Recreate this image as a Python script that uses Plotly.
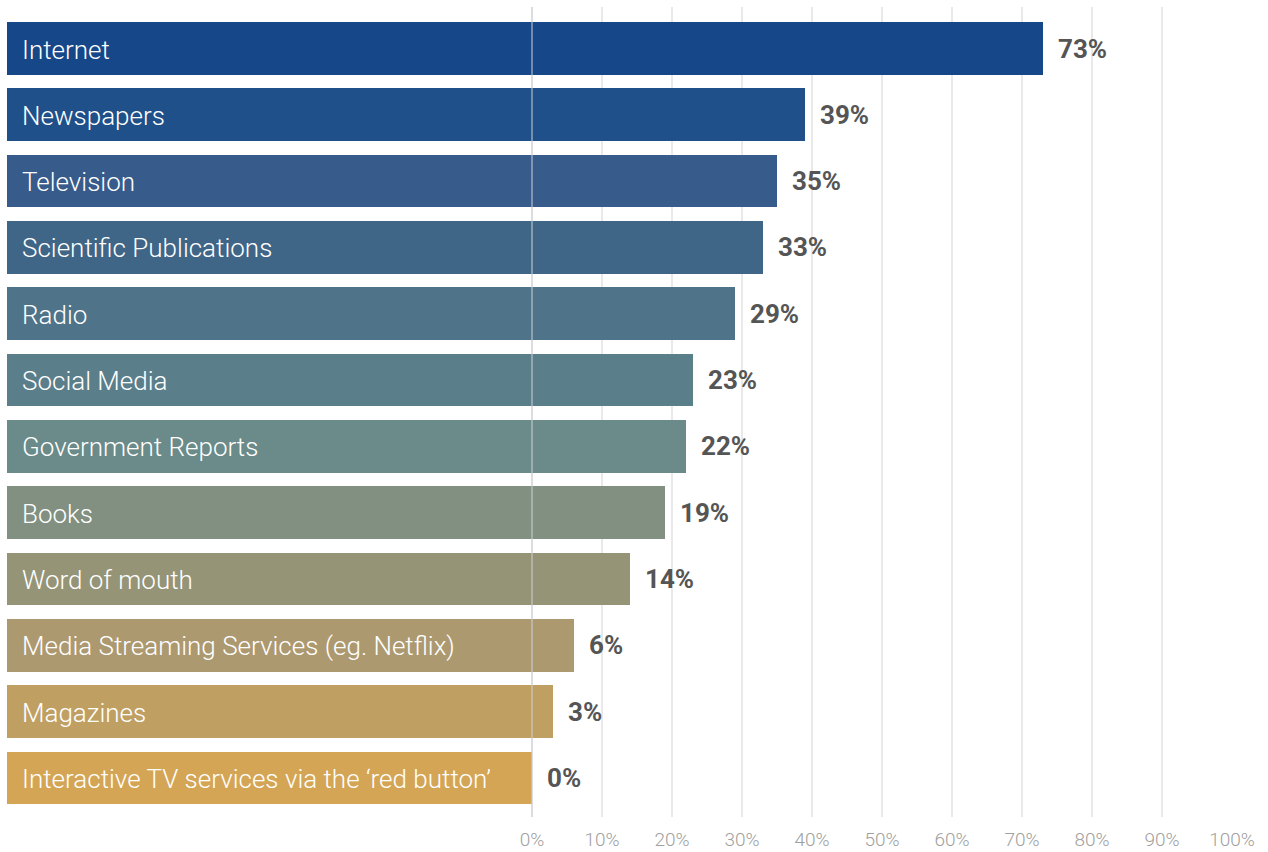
import plotly.graph_objects as go

# Survey: sources of information (share of respondents, %)
categories = [
    "Internet",
    "Newspapers",
    "Television",
    "Scientific Publications",
    "Radio",
    "Social Media",
    "Government Reports",
    "Books",
    "Word of mouth",
    "Media Streaming Services (eg. Netflix)",
    "Magazines",
    "Interactive TV services via the \u2018red button\u2019",
]
values = [73, 39, 35, 33, 29, 23, 22, 19, 14, 6, 3, 0]
bar_colors = [
    "#164789", "#1f5089", "#375b8a", "#3f6687", "#4f7389", "#5b7e8b",
    "#6a8b89", "#819080", "#959477", "#ad9970", "#c09f63", "#d4a555",
]
tick_values = list(range(0, 101, 10))
tick_labels = [f"{t}%" for t in tick_values]

# bars start left of zero so the category names fit inside them
BAR_START = -75
positions = list(range(len(categories)))

fig = go.Figure()
fig.add_trace(go.Bar(
    y=positions,
    x=[v - BAR_START for v in values],
    base=BAR_START,
    orientation="h",
    width=0.795,
    marker=dict(color=bar_colors, line=dict(width=0)),
    hovertext=categories,
    showlegend=False,
))

annotations = []
for pos, name, val in zip(positions, categories, values):
    annotations.append(dict(
        x=BAR_START, y=pos, xref="x", yref="y", text=name,
        xanchor="left", yanchor="middle", xshift=13, yshift=-1, showarrow=False,
        font=dict(family="Roboto", size=26, color="#ffffff", weight=300),
    ))
    annotations.append(dict(
        x=val, y=pos, xref="x", yref="y", text=f"{val}%",
        xanchor="left", yanchor="middle", xshift=13, showarrow=False,
        font=dict(family="Roboto", size=26, color="#555555", weight="bold"),
    ))

fig.update_layout(
    width=1268, height=852,
    margin=dict(l=7, r=36, t=7, b=35),
    paper_bgcolor="#ffffff", plot_bgcolor="#ffffff",
    bargap=0,
    xaxis=dict(
        range=[BAR_START, 100],
        tickvals=tick_values, ticktext=tick_labels,
        showgrid=True, gridcolor="#e9e9e9", gridwidth=2,
        zeroline=False, showline=False, ticks="",
        ticklabelstandoff=9,
        tickfont=dict(family="Roboto", size=19, color="#a0a0a0", weight=300),
        automargin=False, fixedrange=True,
    ),
    yaxis=dict(
        range=[11.59, -0.626],
        showticklabels=False, showgrid=False, zeroline=False,
        showline=False, ticks="", automargin=False, fixedrange=True,
    ),
    annotations=annotations,
    shapes=[dict(
        type="line", xref="x", yref="paper", x0=0, x1=0, y0=0, y1=1,
        line=dict(color="rgba(205,210,215,0.5)", width=2), layer="above",
    )],
)

fig.write_html("out.html")
